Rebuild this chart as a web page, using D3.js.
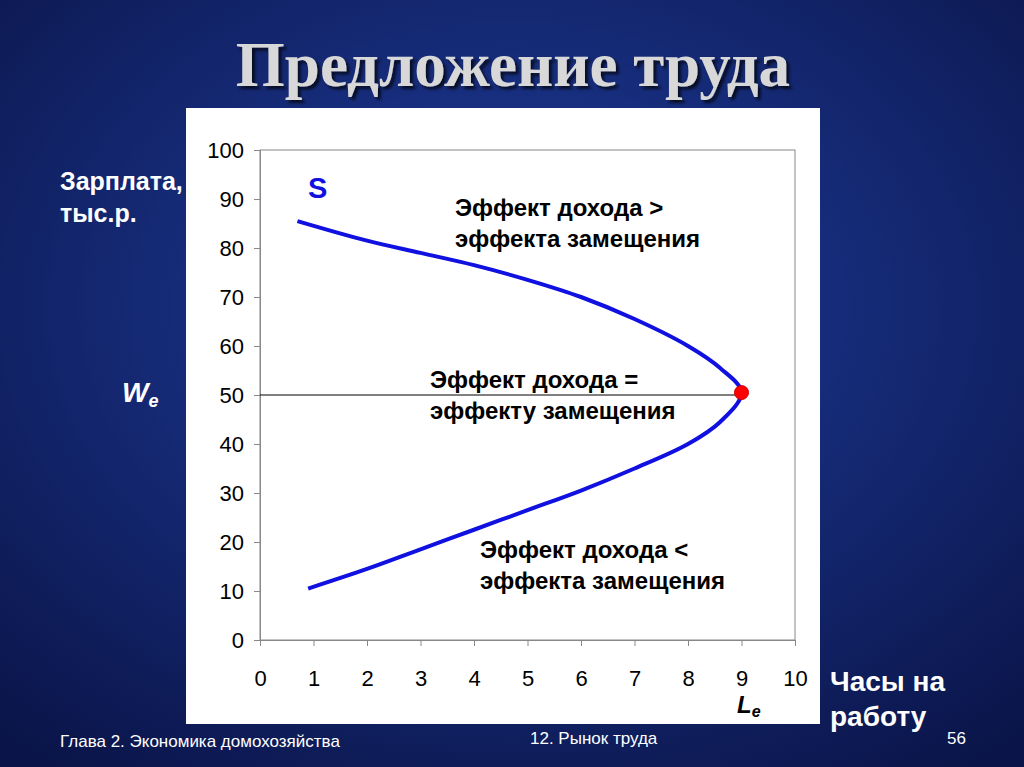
<!DOCTYPE html>
<html><head><meta charset="utf-8">
<script src="https://cdn.jsdelivr.net/npm/d3@7"></script>
<style>body{margin:0;overflow:hidden}</style>
</head><body><svg id="chart"></svg>
<script>
// data
const upperX = [0.7, 2, 3, 4, 5, 6, 7, 8, 8.6, 9];
const upperY = [85.5, 81.5, 79, 76.5, 73.5, 70, 65.5, 60, 55.5, 50.5];
const lowerX = [0.9, 2, 3, 4, 5, 6, 7, 8, 8.6, 9];
const lowerY = [10.5, 14.5, 18.5, 22.5, 26.5, 30.5, 35, 40, 44.5, 50.5];
const equilibrium = [9, 50.5];
const xTicks = [0, 1, 2, 3, 4, 5, 6, 7, 8, 9, 10];
const yTicks = [0, 10, 20, 30, 40, 50, 60, 70, 80, 90, 100];

const width = 1024, height = 767;
const svg = d3.select("#chart").attr("width", width).attr("height", height);

const defs = svg.append("defs");
const grad = defs.append("radialGradient").attr("id", "bg").attr("cx", "50%").attr("cy", "40%").attr("r", "75%");
grad.append("stop").attr("offset", "0%").attr("stop-color", "#1f3d9e");
grad.append("stop").attr("offset", "100%").attr("stop-color", "#0a1448");
svg.append("rect").attr("width", width).attr("height", height).attr("fill", "url(#bg)");
const shadow = defs.append("filter").attr("id", "shadow");
shadow.append("feDropShadow").attr("dx", 3).attr("dy", 3).attr("stdDeviation", 1.5)
  .attr("flood-color", "#000").attr("flood-opacity", 0.7);

// title
svg.append("text").attr("x", 513).attr("y", 86).attr("text-anchor", "middle")
  .style("font-family", "Liberation Serif, serif").style("font-weight", "bold").style("font-size", "63px")
  .attr("fill", "#d8d8d8").attr("filter", "url(#shadow)").text("Предложение труда");

// white panel
svg.append("rect").attr("x", 186).attr("y", 108).attr("width", 634).attr("height", 616).attr("fill", "#fff");

const x = d3.scaleLinear().domain([0, 10]).range([260, 795]);
const y = d3.scaleLinear().domain([0, 100]).range([640, 150]);

const font = "Liberation Sans, Arial, sans-serif";

// frame
svg.append("rect").attr("x", x(0)).attr("y", y(100)).attr("width", x(10) - x(0)).attr("height", y(0) - y(100))
  .attr("fill", "none").attr("stroke", "#888").attr("stroke-width", 1);

const xAxis = svg.append("g").attr("transform", `translate(0,${y(0)})`)
  .call(d3.axisBottom(x).tickValues(xTicks).tickSize(6).tickPadding(24));
const yAxis = svg.append("g").attr("transform", `translate(${x(0)},0)`)
  .call(d3.axisLeft(y).tickValues(yTicks).tickSize(6).tickPadding(10));
[xAxis, yAxis].forEach(a => {
  a.select(".domain").attr("stroke", "#888");
  a.selectAll(".tick line").attr("stroke", "#888");
  a.selectAll("text").style("font-family", font).style("font-size", "22px").attr("fill", "#000");
});

// We guide line
svg.append("line").attr("x1", x(0)).attr("x2", x(equilibrium[0])).attr("y1", y(50)).attr("y2", y(50))
  .attr("stroke", "#000").attr("stroke-width", 1);

const line = d3.line().x(d => x(d[0])).y(d => y(d[1])).curve(d3.curveCatmullRom);
const upper = upperX.map((v, i) => [v, upperY[i]]);
const lower = lowerX.map((v, i) => [v, lowerY[i]]);
svg.append("path").attr("d", line(upper.concat(lower.slice().reverse().slice(1))))
  .attr("fill", "none").attr("stroke", "#1010e0").attr("stroke-width", 4);

svg.append("circle").attr("cx", x(equilibrium[0])).attr("cy", y(equilibrium[1])).attr("r", 7)
  .attr("fill", "#ff0000").attr("stroke", "#c00");

function txt(px, py, s, size, color, opts = {}) {
  const t = svg.append("text").attr("x", px).attr("y", py)
    .style("font-family", font).style("font-weight", "bold").style("font-size", size + "px")
    .attr("fill", color).attr("text-anchor", opts.anchor || "start");
  if (opts.italic) t.style("font-style", "italic");
  t.text(s);
  return t;
}

txt(308, 198, "S", 29, "#1010e0");
txt(455, 216, "Эффект дохода >", 24, "#000");
txt(455, 247, "эффекта замещения", 24, "#000");
txt(430, 388, "Эффект дохода =", 24, "#000");
txt(430, 419, "эффекту замещения", 24, "#000");
txt(480, 558, "Эффект дохода <", 24, "#000");
txt(480, 589, "эффекта замещения", 24, "#000");

txt(60, 190, "Зарплата,", 25, "#fff");
txt(60, 222, "тыс.р.", 25, "#fff");
const we = txt(122, 402, "W", 28, "#fff", { italic: true });
we.append("tspan").attr("dy", 5).style("font-size", "18px").text("e");
const le = txt(737, 713, "L", 24, "#000", { italic: true });
le.append("tspan").attr("dy", 4).style("font-size", "16px").text("e");
txt(830, 691, "Часы на", 28, "#fff");
txt(830, 726, "работу", 28, "#fff");

svg.append("text").attr("x", 60).attr("y", 747).style("font-family", font).style("font-size", "17px").attr("fill", "#fff")
  .text("Глава 2. Экономика домохозяйства");
svg.append("text").attr("x", 530).attr("y", 744).style("font-family", font).style("font-size", "17px").attr("fill", "#fff")
  .text("12. Рынок труда");
svg.append("text").attr("x", 966).attr("y", 744).attr("text-anchor", "end").style("font-family", font).style("font-size", "17px").attr("fill", "#fff")
  .text("56");
</script></body></html>
